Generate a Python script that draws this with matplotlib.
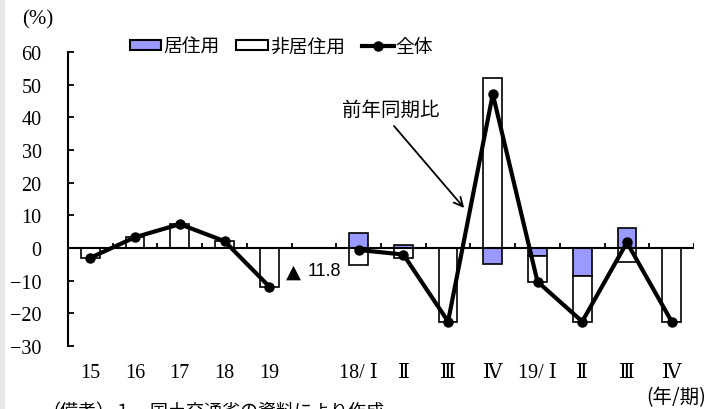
import numpy as np
import matplotlib
matplotlib.use("Agg")
import matplotlib.pyplot as plt
from matplotlib.patches import Patch, Rectangle
from matplotlib.lines import Line2D

plt.rcParams['font.family'] = ['Liberation Serif', 'DejaVu Serif',
                               'Noto Sans CJK JP', 'DejaVu Sans']

# data (blank slot between annual and quarterly parts)
categories = ['15', '16', '17', '18', '19', '',
              '18/ Ⅰ', 'Ⅱ', 'Ⅲ', 'Ⅳ', '19/ Ⅰ', 'Ⅱ', 'Ⅲ', 'Ⅳ']
residential = [0.0, 0.0, 0.0, 0.0, 0.0, np.nan,
               4.5, 1.0, 0.0, -4.9, -2.5, -8.5, 6.1, 0.0]
non_residential = [-3.0, 3.3, 7.3, 2.1, -11.8, np.nan,
                   -5.1, -3.0, -22.5, 52.0, -7.8, -14.0, -4.4, -22.5]
total = [-3.0, 3.3, 7.3, 2.1, -11.8, np.nan,
         -0.6, -2.0, -22.5, 47.1, -10.3, -22.5, 1.7, -22.5]

BLUE = '#9999ff'

res = np.array(residential)
non = np.array(non_residential)
x = np.arange(len(categories)) + 0.5
non_base = np.where(np.sign(non) == np.sign(res), res, 0.0)

fig = plt.figure(figsize=(7.17, 4.10), dpi=100)
fig.patches.append(Rectangle((0, 0), 4 / 717, 1, transform=fig.transFigure,
                             color='#e8e8e8', zorder=0))
ax = fig.add_axes([68 / 717, 1 - 347 / 410, 626 / 717, 294 / 410])

w = 0.42
ax.bar(x, res, w, color=BLUE, edgecolor='black', linewidth=1.2, zorder=2)
ax.bar(x, non, w, bottom=non_base, color='white', edgecolor='black',
       linewidth=1.2, zorder=2)
ax.plot(x, total, color='black', lw=3.0, marker='o', ms=6.5, zorder=4)

# zero line with small upward ticks between categories
n = len(categories)
ax.plot([0, n], [0, 0], color='black', lw=1.5, zorder=3)
ax.vlines(np.arange(1, n + 1), 0, 1.5, color='black', lw=1.3, zorder=3)

ax.set_xlim(0, n)
ax.set_ylim(-30, 60)
ax.set_yticks(np.arange(-30, 61, 10))
ax.set_yticklabels([str(v).replace('-', '−') for v in range(-30, 61, 10)])
ax.set_xticks(x)
ax.set_xticklabels(categories)
ax.tick_params(axis='x', length=0, pad=12, labelsize=14.5)
ax.tick_params(axis='y', direction='in', length=4, width=1.3, pad=19,
               labelsize=14.5)
for s in ['top', 'right', 'bottom']:
    ax.spines[s].set_visible(False)
ax.spines['left'].set_linewidth(1.5)

ax.text(4.88, -7.2, '▲', ha='left', va='center', fontsize=14,
        family='DejaVu Sans')
ax.text(5.35, -7.0, '11.8', ha='left', va='center', fontsize=13,
        family='Liberation Sans')
ax.text(7.22, 42.5, '前年同期比', ha='center', va='center', fontsize=14,
        family=['Noto Sans CJK JP'])
ax.annotate('', xy=(8.9, 11.6), xytext=(7.25, 38.0),
            arrowprops=dict(arrowstyle='->', lw=1.3, color='black',
                            mutation_scale=16))

handles = [Patch(facecolor=BLUE, edgecolor='black', linewidth=1.5),
           Patch(facecolor='white', edgecolor='black', linewidth=1.5),
           Line2D([], [], color='black', lw=3.0, marker='o', ms=6.5)]
fig.legend(handles, ['居住用', '非居住用', '全体'], loc='center left',
           bbox_to_anchor=(122 / 717, 1 - 47 / 410), ncol=3, frameon=False,
           handlelength=1.7, handleheight=0.5, handletextpad=0.1,
           columnspacing=0.9, borderaxespad=0,
           prop={'family': 'Noto Sans CJK JP', 'size': 13.5})

fig.text(22 / 717, 1 - 20 / 410, '(%)', ha='left', va='center', fontsize=15)
fig.text(706 / 717, 1 - 398 / 410, '(年/期)', ha='right', va='center',
         fontsize=14, family=['Noto Sans CJK JP'])
fig.text(42 / 717, 1 - 403 / 410, '（備考）１．国土交通省の資料により作成．',
         ha='left', va='top', fontsize=13, family=['Noto Sans CJK JP'])

fig.savefig('out.png', dpi=100)
